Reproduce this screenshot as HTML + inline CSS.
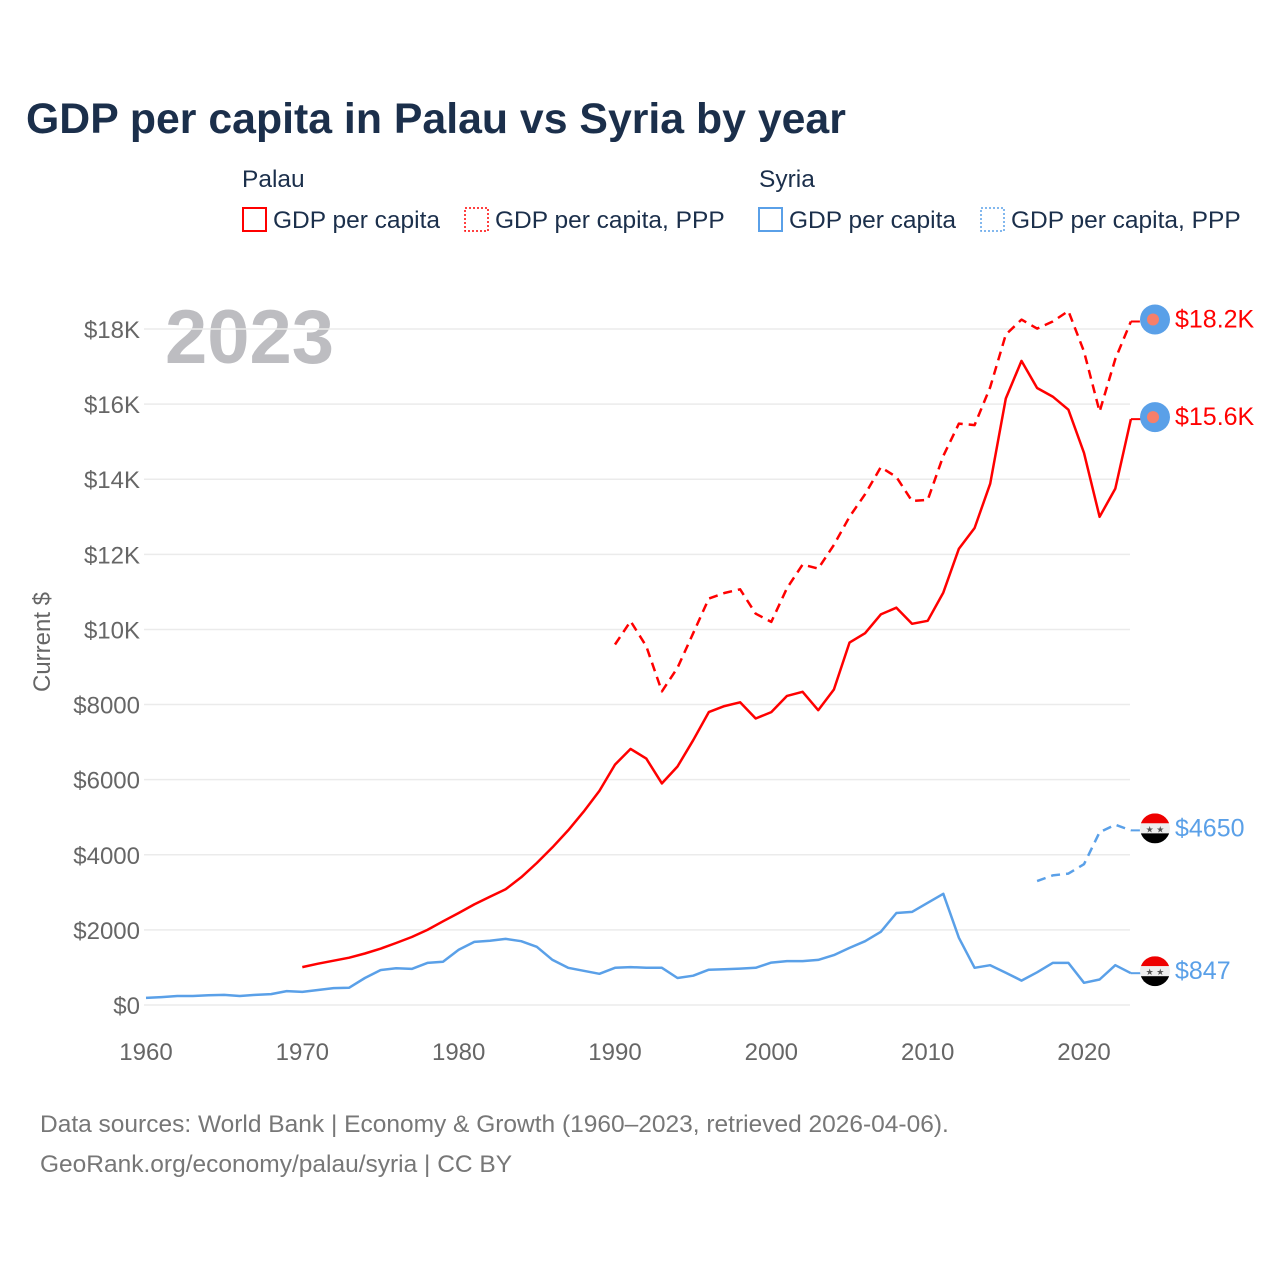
<!DOCTYPE html>
<html><head><meta charset="utf-8"><style>
body{margin:0;background:#fff;font-family:"Liberation Sans",sans-serif;}
svg text{font-family:"Liberation Sans",sans-serif;}
</style></head><body>
<svg id="c" width="1280" height="1280" viewBox="0 0 1280 1280">
<text x="26" y="133" font-size="42.8" font-weight="bold" fill="#1b2f4b">GDP per capita in Palau vs Syria by year</text>
<g font-size="24.5" fill="#1b2f4b">
<text x="242" y="187">Palau</text>
<rect x="243" y="208" width="23" height="23" fill="none" stroke="#f00" stroke-width="2"/>
<text x="273" y="228">GDP per capita</text>
<rect x="465" y="208" width="23" height="23" fill="none" stroke="#f00" stroke-width="1.5" stroke-dasharray="2 2"/>
<text x="495" y="228">GDP per capita, PPP</text>
<text x="759" y="187">Syria</text>
<rect x="759" y="208" width="23" height="23" fill="none" stroke="#5aa0e8" stroke-width="2"/>
<text x="789" y="228">GDP per capita</text>
<rect x="981" y="208" width="23" height="23" fill="none" stroke="#5aa0e8" stroke-width="1.5" stroke-dasharray="2 2"/>
<text x="1011" y="228">GDP per capita, PPP</text>
</g>
<text x="165" y="363" font-size="76" font-weight="bold" fill="#bdbdc1">2023</text>
<text transform="translate(50,642) rotate(-90)" text-anchor="middle" font-size="24" fill="#666">Current $</text>
<g id="grid"></g><g id="ylab"></g><g id="xlab"></g><g id="series"></g><g id="ends"></g>
<text x="40" y="1132" font-size="24.5" fill="#777">Data sources: World Bank | Economy &amp; Growth (1960–2023, retrieved 2026-04-06).</text>
<text x="40" y="1172" font-size="24.5" fill="#777">GeoRank.org/economy/palau/syria | CC BY</text>
</svg>
<script>
const yTicks=[0,2000,4000,6000,8000,10000,12000,14000,16000,18000];
const yTickLabels=["$0","$2000","$4000","$6000","$8000","$10K","$12K","$14K","$16K","$18K"];
const xTicks=[1960,1970,1980,1990,2000,2010,2020];
const syriaStart=1960;
const syriaGdp=[190,210,240,240,260,270,240,270,290,370,350,400,450,460,720,930,980,960,1120,1150,1470,1680,1710,1760,1700,1550,1200,990,910,830,990,1010,990,990,720,780,940,950,970,990,1130,1170,1170,1200,1330,1520,1700,1950,2450,2480,2720,2960,1790,990,1060,860,650,870,1120,1120,590,680,1060,847];
const syriaPppStart=2017;
const syriaPpp=[3300,3450,3500,3750,4600,4800,4650];
const palauStart=1970;
const palauGdp=[1010,1100,1180,1260,1370,1500,1650,1810,2000,2230,2450,2680,2880,3080,3400,3780,4200,4650,5150,5700,6400,6820,6560,5900,6350,7050,7800,7960,8060,7630,7800,8230,8340,7850,8400,9650,9900,10400,10580,10150,10230,10980,12150,12700,13880,16150,17150,16430,16200,15850,14700,13000,13750,15600];
const palauPppStart=1990;
const palauPpp=[9600,10220,9550,8350,8980,9900,10820,10970,11070,10420,10200,11100,11730,11620,12250,13000,13600,14320,14060,13420,13450,14620,15480,15440,16450,17850,18250,18010,18200,18480,17400,15800,17200,18200];
const endLabels=["$18.2K","$15.6K","$4650","$847"];

const NS="http://www.w3.org/2000/svg";
const X=yr=>146+(yr-1960)*(1084-146)/60;
const Y=v=>1005-v*(1005-329)/18000;
function mk(t,a,p){const e=document.createElementNS(NS,t);for(const k in a)e.setAttribute(k,a[k]);p.appendChild(e);return e;}
const grid=document.getElementById('grid'),ylab=document.getElementById('ylab'),xlab=document.getElementById('xlab'),ser=document.getElementById('series'),ends=document.getElementById('ends');
yTicks.forEach((v,i)=>{
 const l=mk('line',{x1:144,x2:1130,y1:Y(v),y2:Y(v),stroke:'#ebebeb','stroke-width':1.5},grid);
 
 
 const t=mk('text',{x:140,y:Y(v)+9,'text-anchor':'end','font-size':24,fill:'#666'},ylab);
 t.textContent=yTickLabels[i];
 
 
});
xTicks.forEach(yr=>{
 const t=mk('text',{x:X(yr),y:1060,'text-anchor':'middle','font-size':24,fill:'#666'},xlab);
 t.textContent=yr;
 
 
});
function line(start,vals,color,dash,name){
 const d=vals.map((v,i)=>(i?'L':'M')+X(start+i).toFixed(1)+','+Y(v).toFixed(1)).join('');
 const p=mk('path',{d:d,fill:'none',stroke:color,'stroke-width':2.5,'stroke-linejoin':'round'},ser);
 if(dash)p.setAttribute('stroke-dasharray','9 6');
 
 
 const last=vals[vals.length-1];
 const q=mk('line',{x1:X(start+vals.length-1),x2:1142,y1:Y(last),y2:Y(last),stroke:color,'stroke-width':2},ser);
 if(dash)q.setAttribute('stroke-dasharray','9 6');
 
 
 return last;
}
const red='#f00',blue='#5aa0e8';
const e1=line(palauPppStart,palauPpp,red,true,'palau-ppp-line');
const e2=line(palauStart,palauGdp,red,false,'palau-gdp-line');
const e3=line(syriaPppStart,syriaPpp,blue,true,'syria-ppp-line');
const e4=line(syriaStart,syriaGdp,blue,false,'syria-gdp-line');
function palauMarker(v,lab,name){
 const g=mk('g',{},ends);
 
 
 mk('circle',{cx:1155,cy:Y(v)-2,r:15,fill:'#5aa0e8'},g);
 mk('circle',{cx:1153,cy:Y(v)-2,r:6,fill:'#f77f6a'},g);
 const t=mk('text',{x:1175,y:Y(v)+6,'font-size':25,fill:red},g);t.textContent=lab;
}
function syriaMarker(v,lab,name){
 const g=mk('g',{},ends);
 
 
 const y=Y(v)-2;
 mk('clipPath',{id:'cp'+name},g).appendChild(document.createElementNS(NS,'circle'));
 const cp=g.querySelector('clipPath circle');cp.setAttribute('cx',1155);cp.setAttribute('cy',y);cp.setAttribute('r',15);
 const h=mk('g',{'clip-path':'url(#cp'+name+')'},g);
 mk('rect',{x:1140,y:y-15,width:30,height:10,fill:'#e00'},h);
 mk('rect',{x:1140,y:y-5,width:30,height:10,fill:'#eee'},h);
 mk('rect',{x:1140,y:y+5,width:30,height:10,fill:'#000'},h);
 const s=mk('text',{x:1155,y:y+4,'text-anchor':'middle','font-size':9,fill:'#555'},g);s.textContent='★ ★';
 const t=mk('text',{x:1175,y:y+8,'font-size':25,fill:blue},g);t.textContent=lab;
}
palauMarker(e1,endLabels[0],'end-marker-palau-ppp');
palauMarker(e2,endLabels[1],'end-marker-palau-gdp');
syriaMarker(e3,endLabels[2],'end-marker-syria-ppp');
syriaMarker(e4,endLabels[3],'end-marker-syria-gdp');
</script>
</body></html>
